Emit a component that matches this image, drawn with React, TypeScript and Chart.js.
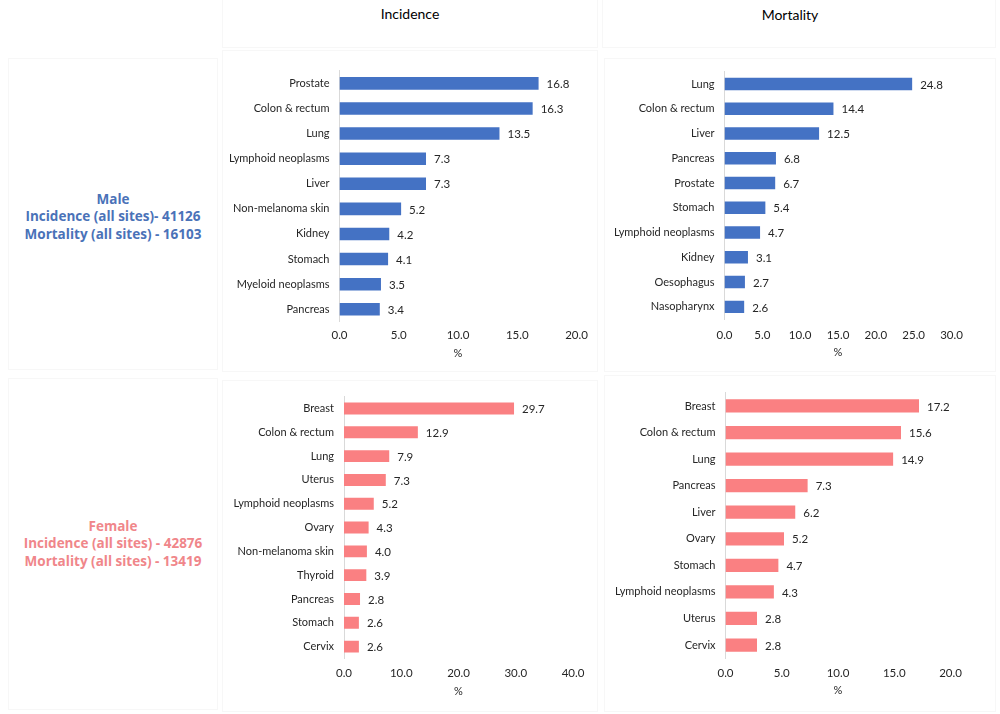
import React, { useEffect, useRef } from "react";
import { Chart, registerables } from "chart.js";

Chart.register(...registerables);

const maleIncLabels = ["Prostate", "Colon & rectum", "Lung", "Lymphoid neoplasms", "Liver", "Non-melanoma skin", "Kidney", "Stomach", "Myeloid neoplasms", "Pancreas"];
const maleIncValues = [16.8, 16.3, 13.5, 7.3, 7.3, 5.2, 4.2, 4.1, 3.5, 3.4];

const maleMorLabels = ["Lung", "Colon & rectum", "Liver", "Pancreas", "Prostate", "Stomach", "Lymphoid neoplasms", "Kidney", "Oesophagus", "Nasopharynx"];
const maleMorValues = [24.8, 14.4, 12.5, 6.8, 6.7, 5.4, 4.7, 3.1, 2.7, 2.6];

const femIncLabels = ["Breast", "Colon & rectum", "Lung", "Uterus", "Lymphoid neoplasms", "Ovary", "Non-melanoma skin", "Thyroid", "Pancreas", "Stomach", "Cervix"];
const femIncValues = [29.7, 12.9, 7.9, 7.3, 5.2, 4.3, 4.0, 3.9, 2.8, 2.6, 2.6];

const femMorLabels = ["Breast", "Colon & rectum", "Lung", "Pancreas", "Liver", "Ovary", "Stomach", "Lymphoid neoplasms", "Uterus", "Cervix"];
const femMorValues = [17.2, 15.6, 14.9, 7.3, 6.2, 5.2, 4.7, 4.3, 2.8, 2.8];

const axisMax = [20, 30, 40, 20];
const axisStep = [5, 5, 10, 5];
const axisTitle = "%";
const colTitles = ["Incidence", "Mortality"];
const maleText = ["Male", "Incidence (all sites)- 41126", "Mortality (all sites) - 16103"];
const femaleText = ["Female", "Incidence (all sites) - 42876", "Mortality (all sites) - 13419"];

const BLUE = "#4472C4";
const PINK = "#FA8082";
const FONT = "Lato, 'Open Sans', sans-serif";
const TEXT = "#262626";

type Geo = {
  left: number; top: number; width: number; height: number;
  plotL: number; plotR: number; plotT: number; plotB: number;
  tickY: number; titleY: number;
};

const valueLabelPlugin = {
  id: "valueLabels",
  afterDatasetsDraw(chart: any) {
    const ctx = chart.ctx;
    const meta = chart.getDatasetMeta(0);
    const data = chart.data.datasets[0].data;
    ctx.save();
    ctx.font = `11.5px ${FONT}`;
    ctx.fillStyle = TEXT;
    ctx.textAlign = "left";
    ctx.textBaseline = "middle";
    meta.data.forEach((el: any, i: number) => {
      ctx.fillText(Number(data[i]).toFixed(1), el.x + 8, el.y + 1);
    });
    ctx.restore();
  },
};

function BarPanel(props: { labels: string[]; values: number[]; color: string; max: number; step: number; geo: Geo }) {
  const ref = useRef<HTMLCanvasElement>(null);
  const { labels, values, color, max, step, geo } = props;
  useEffect(() => {
    if (!ref.current) return;
    const fs = 11;
    const lh = fs * 1.2;
    const chart = new Chart(ref.current, {
      type: "bar",
      data: {
        labels,
        datasets: [{ data: values, backgroundColor: color, borderWidth: 0, categoryPercentage: 1, barPercentage: 0.5 }],
      },
      options: {
        indexAxis: "y",
        animation: false,
        responsive: false,
        maintainAspectRatio: false,
        layout: {
          padding: { left: 0, top: geo.plotT - geo.top, right: geo.left + geo.width - geo.plotR, bottom: 0 },
        },
        plugins: { legend: { display: false }, tooltip: { enabled: false } },
        scales: {
          x: {
            min: 0,
            max,
            grid: { display: false, drawTicks: false },
            border: { display: false },
            ticks: {
              stepSize: step,
              color: TEXT,
              font: { family: FONT, size: 11.5 },
              padding: geo.tickY - geo.plotB - fs / 2 - 1,
              callback: (v: any) => Number(v).toFixed(1),
              maxRotation: 0,
            },
            title: {
              display: true,
              text: axisTitle,
              color: TEXT,
              font: { family: FONT, size: fs },
              padding: { top: 0, bottom: geo.top + geo.height - geo.titleY - lh / 2 },
            },
            afterFit: (s: any) => { s.height = geo.top + geo.height - geo.plotB; },
          },
          y: {
            grid: { display: false, drawTicks: false },
            border: { display: true, color: "#D9D9D9", width: 1 },
            ticks: { color: TEXT, font: { family: FONT, size: fs }, padding: 10, autoSkip: false },
            afterFit: (s: any) => { s.width = geo.plotL - geo.left; },
          },
        },
      },
      plugins: [valueLabelPlugin],
    });
    return () => chart.destroy();
  }, []);
  return (
    <canvas
      ref={ref}
      width={geo.width}
      height={geo.height}
      style={{ position: "absolute", left: geo.left, top: geo.top, width: geo.width, height: geo.height }}
    />
  );
}

const box = (l: number, t: number, w: number, h: number): React.CSSProperties => ({
  position: "absolute", left: l, top: t, width: w, height: h, border: "1px solid #F7F7F7", boxSizing: "border-box",
});

export default function App() {
  const g1: Geo = { left: 222, top: 50, width: 376, height: 322, plotL: 339.5, plotR: 576.5, plotT: 70.8, plotB: 321.8, tickY: 335, titleY: 353 };
  const g2: Geo = { left: 604, top: 50, width: 392, height: 322, plotL: 724.5, plotR: 951.5, plotT: 71.6, plotB: 319.2, tickY: 335, titleY: 352 };
  const g3: Geo = { left: 222, top: 380, width: 376, height: 332, plotL: 344, plotR: 573, plotT: 393.5, plotB: 658.5, tickY: 673, titleY: 691.5 };
  const g4: Geo = { left: 604, top: 375, width: 392, height: 337, plotL: 725.5, plotR: 950.5, plotT: 392.7, plotB: 658.3, tickY: 673, titleY: 690 };
  const sideStyle = (color: string, top: number): React.CSSProperties => ({
    position: "absolute", left: 8, width: 210, top, textAlign: "center", color, fontFamily: "'Open Sans', sans-serif",
    fontWeight: 700, fontSize: 13.5, lineHeight: "17.6px",
  });
  return (
    <div style={{ position: "absolute", left: 0, top: 0, width: 1000, height: 714, background: "#fff", overflow: "hidden" }}>
      <div style={box(222, -2, 376, 50)} />
      <div style={box(602, -2, 394, 50)} />
      <div style={box(8, 58, 210, 312)} />
      <div style={box(8, 378, 210, 332)} />
      <div style={box(222, 50, 376, 322)} />
      <div style={box(604, 58, 392, 314)} />
      <div style={box(222, 380, 376, 332)} />
      <div style={box(604, 375, 392, 337)} />
      <div style={{ position: "absolute", left: 222, width: 376, top: 5, textAlign: "center", fontFamily: FONT, fontSize: 14, color: "#000" }}>{colTitles[0]}</div>
      <div style={{ position: "absolute", left: 602, width: 376, top: 6, textAlign: "center", fontFamily: FONT, fontSize: 14, color: "#000" }}>{colTitles[1]}</div>
      <div style={sideStyle("#4A72B8", 190.5)}>{maleText.map((t, i) => <div key={i}>{t}</div>)}</div>
      <div style={sideStyle("#F0868A", 517.5)}>{femaleText.map((t, i) => <div key={i}>{t}</div>)}</div>
      <BarPanel labels={maleIncLabels} values={maleIncValues} color={BLUE} max={axisMax[0]} step={axisStep[0]} geo={g1} />
      <BarPanel labels={maleMorLabels} values={maleMorValues} color={BLUE} max={axisMax[1]} step={axisStep[1]} geo={g2} />
      <BarPanel labels={femIncLabels} values={femIncValues} color={PINK} max={axisMax[2]} step={axisStep[2]} geo={g3} />
      <BarPanel labels={femMorLabels} values={femMorValues} color={PINK} max={axisMax[3]} step={axisStep[3]} geo={g4} />
    </div>
  );
}
